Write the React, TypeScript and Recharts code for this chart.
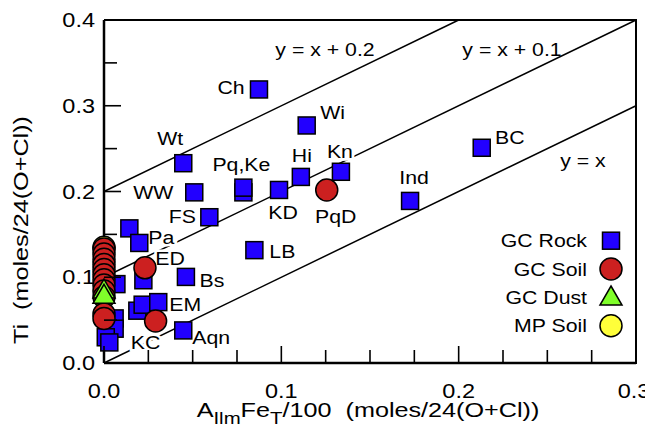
import { ScatterChart, Scatter, XAxis, YAxis, Customized } from 'recharts';

const FONT = '"Liberation Sans", Arial, Helvetica, sans-serif';
const BLUE = '#2200ff';
const RED = '#cc2020';
const GREEN = '#80ff2a';
const YELLOW = '#ffff3a';

// axis ticks (minor + major)
const xTicks = [0, 0.025, 0.05, 0.075, 0.1, 0.125, 0.15, 0.175, 0.2, 0.225, 0.25, 0.275, 0.3];
const yTicks = [0, 0.05, 0.1, 0.15, 0.2, 0.25, 0.3, 0.35, 0.4];

// reference lines y = x + c
const lineOffsets = [0, 0.1, 0.2];
const lineNames = ['y = x', 'y = x + 0.1', 'y = x + 0.2'];

// GC Rock
const gcRock = [
  { x: 0.0874, y: 0.319, name: 'Ch' },
  { x: 0.1143, y: 0.277, name: 'Wi' },
  { x: 0.0447, y: 0.233, name: 'Wt' },
  { x: 0.0509, y: 0.199, name: 'WW' },
  { x: 0.0786, y: 0.199, name: '' },
  { x: 0.0786, y: 0.2045, name: 'Pq,Ke' },
  { x: 0.0987, y: 0.2018, name: 'KD' },
  { x: 0.111, y: 0.217, name: 'Hi' },
  { x: 0.1336, y: 0.223, name: 'Kn' },
  { x: 0.213, y: 0.251, name: 'BC' },
  { x: 0.1726, y: 0.189, name: 'Ind' },
  { x: 0.0594, y: 0.17, name: 'FS' },
  { x: 0.0143, y: 0.157, name: '' },
  { x: 0.0199, y: 0.14, name: 'Pa' },
  { x: 0.0848, y: 0.1316, name: 'LB' },
  { x: 0.0462, y: 0.1004, name: 'Bs' },
  { x: 0.0222, y: 0.0965, name: '' },
  { x: 0.0188, y: 0.061, name: '' },
  { x: 0.0218, y: 0.068, name: '' },
  { x: 0.0306, y: 0.071, name: 'EM' },
  { x: 0.0447, y: 0.038, name: 'Aqn' },
  { x: 0.007, y: 0.092, name: '' },
  { x: 0.006, y: 0.052, name: '' },
  { x: 0.006, y: 0.04, name: '' },
  { x: 0.001, y: 0.03, name: '' },
  { x: 0.003, y: 0.024, name: '' },
];

// GC Soil
const gcSoil = [
  { x: 0.1256, y: 0.2018, name: 'PqD' },
  { x: 0.0231, y: 0.111, name: 'ED' },
  { x: 0.0291, y: 0.049, name: 'KC' },
  { x: 0, y: 0.133, name: '' },
  { x: 0, y: 0.127, name: '' },
  { x: 0, y: 0.121, name: '' },
  { x: 0, y: 0.115, name: '' },
  { x: 0, y: 0.109, name: '' },
  { x: 0, y: 0.103, name: '' },
  { x: 0, y: 0.097, name: '' },
  { x: 0, y: 0.091, name: '' },
  { x: 0, y: 0.084, name: '' },
  { x: 0, y: 0.077, name: '' },
  { x: 0, y: 0.057, name: '' },
  { x: 0, y: 0.052, name: '' },
];

// GC Dust
const gcDust = [
  { x: 0, y: 0.085 },
  { x: 0, y: 0.079 },
];

// MP Soil
const mpSoil = [
  { x: 0, y: 0.135 },
];

const legendItems = ['GC Rock', 'GC Soil', 'GC Dust', 'MP Soil'];

// label placement (pixels from marker centre)
const labelOffset: Record<string, [number, number]> = {
  Ch: [-28, -2], Wi: [26, -13], Wt: [-13, -25], WW: [-41, 0], 'Pq,Ke': [-2, -23],
  Hi: [1, -22], Kn: [-1, -20], BC: [28, -10], Ind: [4, -24], KD: [4, 22],
  PqD: [9, 26], FS: [-27, -1], Pa: [22, -6], LB: [28, 1], ED: [25, -9],
  Bs: [26, 3], EM: [27, 2], KC: [-10, 21], Aqn: [28, 7],
};

const labeled = [...gcRock, ...gcSoil].filter(p => p.name);

function SText({ x, y, children, anchor = 'middle', size = 19, sx = 1.12, rotate = 0, halo = false }: any) {
  return (
    <text
      transform={`translate(${x},${y}) rotate(${rotate}) scale(${sx},1)`}
      textAnchor={anchor}
      dominantBaseline="central"
      fontSize={size}
      fontFamily={FONT}
      fill="#000"
      stroke={halo ? '#fff' : undefined}
      strokeWidth={halo ? 5 : undefined}
      paintOrder="stroke"
      xmlSpace="preserve"
    >
      {children}
    </text>
  );
}

const square = (cx: number, cy: number) => (
  <rect x={cx - 8.5} y={cy - 8.5} width={17} height={17} fill={BLUE} stroke="#000" strokeWidth={1.5} />
);
const circle = (cx: number, cy: number, fill: string) => (
  <circle cx={cx} cy={cy} r={11} fill={fill} stroke="#000" strokeWidth={1.5} />
);
const triangle = (cx: number, cy: number) => (
  <polygon points={`${cx},${cy - 11} ${cx + 11},${cy + 8} ${cx - 11},${cy + 8}`} fill={GREEN} stroke="#000" strokeWidth={1.5} />
);

const isMajor = (v: number) => Math.abs(v * 10 - Math.round(v * 10)) < 1e-6;

function XTick({ x, y, payload }: any) {
  const v = payload.value;
  const major = isMajor(v);
  return (
    <g>
      <line x1={x} x2={x} y1={y} y2={y - (major ? 17 : 13)} stroke="#000" strokeWidth={1.6} />
      {major && <SText x={Math.min(x, 626)} y={y + 28} size={21}>{v.toFixed(1)}</SText>}
    </g>
  );
}

function YTick({ x, y, payload }: any) {
  const v = payload.value;
  const major = isMajor(v);
  return (
    <g>
      <line x1={x} x2={x + (major ? 17 : 13)} y1={y} y2={y} stroke="#000" strokeWidth={1.6} />
      {major && <SText x={x - 9} y={y} size={21} anchor="end">{v.toFixed(1)}</SText>}
    </g>
  );
}

function Overlay() {
  const rows = [232.7, 261, 289, 317.7];
  return (
    <g>
      {/* top and right sides of the plot box */}
      <line x1={96} y1={12} x2={629} y2={12} stroke="#000" strokeWidth={2} />
      <line x1={628} y1={11} x2={628} y2={356} stroke="#000" strokeWidth={2} />
      <SText x={317} y={41}>{lineNames[2]}</SText>
      <SText x={504} y={41}>{lineNames[1]}</SText>
      <SText x={575} y={152}>{lineNames[0]}</SText>
      {legendItems.map((t, i) => (
        <g key={t}>
          <SText x={579} y={rows[i]} anchor="end">{t}</SText>
          {i === 0 && square(603, rows[i])}
          {i === 1 && circle(603, rows[i], RED)}
          {i === 2 && triangle(603, rows[i])}
          {i === 3 && circle(603, rows[i], YELLOW)}
        </g>
      ))}
      <SText x={13} y={222} rotate={-90} size={21} sx={1.2}>{'Ti  (moles/24(O+Cl))'}</SText>
      <text
        transform="translate(360,402) scale(1.2,1)"
        textAnchor="middle"
        dominantBaseline="central"
        fontSize={21}
        fontFamily={FONT}
        xmlSpace="preserve"
      >
        <tspan>A</tspan>
        <tspan dy={8} fontSize={17}>Ilm</tspan>
        <tspan dy={-8}>Fe</tspan>
        <tspan dy={8} fontSize={17}>T</tspan>
        <tspan dy={-8}>{'/100  (moles/24(O+Cl))'}</tspan>
      </text>
    </g>
  );
}

export default function App() {
  return (
    <ScatterChart width={645} height={424} margin={{ top: 12, right: 17, left: 0, bottom: 0 }}>
      <XAxis
        type="number"
        dataKey="x"
        domain={[0, 0.3]}
        ticks={xTicks}
        interval={0}
        tickSize={0}
        tickMargin={0}
        tick={<XTick />}
        height={69}
        axisLine={{ stroke: '#000', strokeWidth: 2.5 }}
      />
      <YAxis
        type="number"
        dataKey="y"
        domain={[0, 0.4]}
        ticks={yTicks}
        interval={0}
        tickSize={0}
        tickMargin={0}
        tick={<YTick />}
        width={96}
        axisLine={{ stroke: '#000', strokeWidth: 2.5 }}
      />
      {lineOffsets.map(c => (
        <Scatter
          key={c}
          data={[
            { x: 0, y: c },
            { x: Math.min(0.3, 0.4 - c), y: Math.min(0.3 + c, 0.4) },
          ]}
          line={{ stroke: '#000', strokeWidth: 1.5 }}
          shape={() => <g />}
          isAnimationActive={false}
        />
      ))}
      <Scatter
        data={labeled}
        isAnimationActive={false}
        shape={(p: any) => {
          const [dx, dy] = labelOffset[p.payload.name] || [0, 0];
          return <SText x={p.cx + dx} y={p.cy + dy} halo>{p.payload.name}</SText>;
        }}
      />
      <Scatter data={mpSoil} isAnimationActive={false} shape={(p: any) => circle(p.cx, p.cy, YELLOW)} />
      <Scatter data={gcRock} isAnimationActive={false} shape={(p: any) => square(p.cx, p.cy)} />
      <Scatter data={gcSoil} isAnimationActive={false} shape={(p: any) => circle(p.cx, p.cy, RED)} />
      <Scatter data={gcDust} isAnimationActive={false} shape={(p: any) => triangle(p.cx, p.cy)} />
      <Customized component={Overlay} />
    </ScatterChart>
  );
}
